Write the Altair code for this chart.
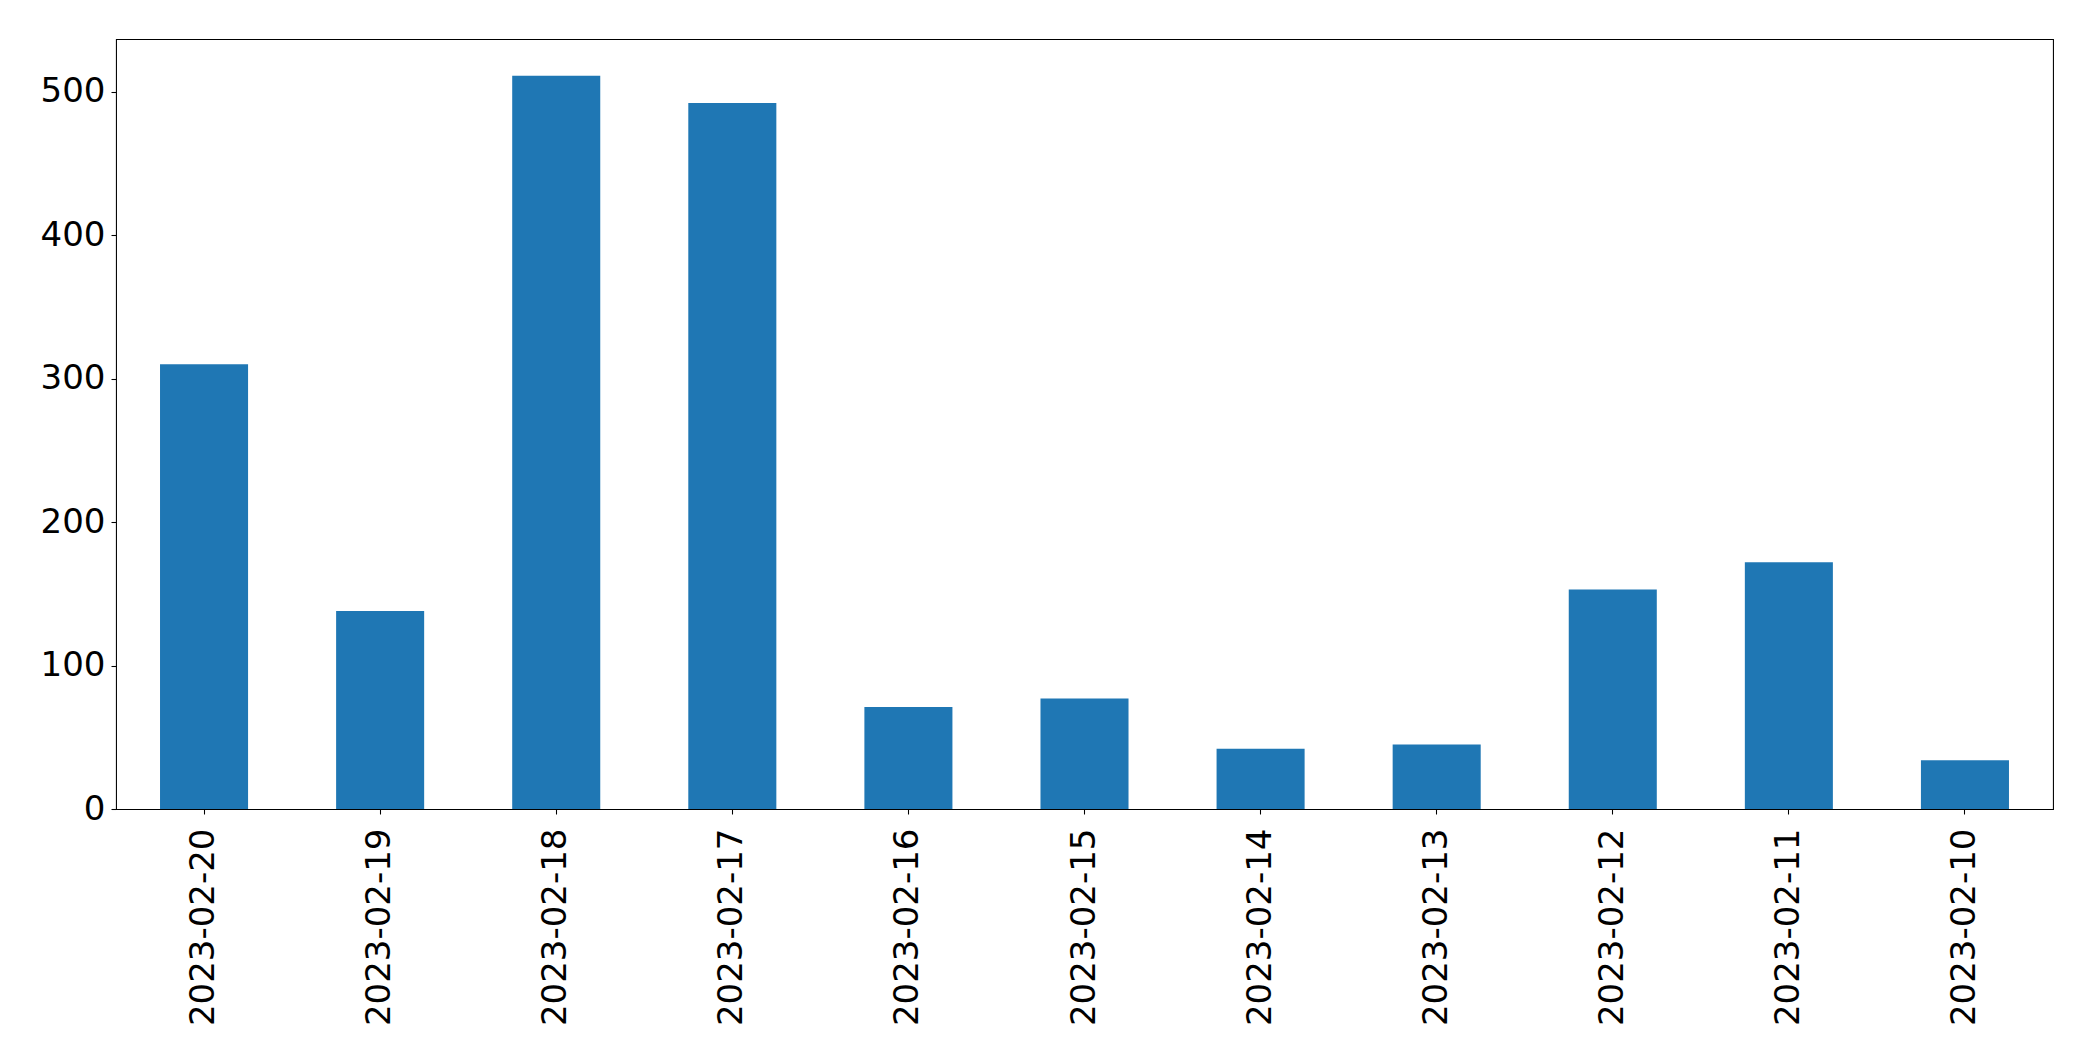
import altair as alt
import pandas as pd

dates = ["2023-02-20", "2023-02-19", "2023-02-18", "2023-02-17", "2023-02-16",
         "2023-02-15", "2023-02-14", "2023-02-13", "2023-02-12", "2023-02-11",
         "2023-02-10"]
counts = [310, 138, 511, 492, 71, 77, 42, 45, 153, 172, 34]

df = pd.DataFrame({"date": dates, "count": counts})

FONT = "DejaVu Sans"

chart = alt.Chart(df).mark_bar(color="#1f77b4").encode(
    x=alt.X("date:N", sort=dates, title=None,
            scale=alt.Scale(paddingInner=0.5, paddingOuter=0.25),
            axis=alt.Axis(labelAngle=-90, labelFontSize=34, labelFont=FONT,
                          labelColor="black", tickColor="black", tickSize=5,
                          tickWidth=1.07, labelPadding=14, domain=False,
                          labelLimit=0, labelBaseline="middle", labelAlign="right")),
    y=alt.Y("count:Q", title=None,
            scale=alt.Scale(domain=[0, 536.6], nice=False, zero=True),
            axis=alt.Axis(values=[0, 100, 200, 300, 400, 500], labelFontSize=34,
                          labelFont=FONT, labelColor="black", tickColor="black",
                          tickSize=5, tickWidth=1.07, labelPadding=6, grid=False,
                          domain=False)),
).properties(
    width=1937, height=770,
    autosize=alt.AutoSizeParams(type="none"),
    padding={"left": 108, "top": 31, "right": 20, "bottom": 230},
).configure_view(
    stroke="black", strokeWidth=1.07
)

chart.save("out.html", embed_options={"renderer": "svg", "actions": False})
